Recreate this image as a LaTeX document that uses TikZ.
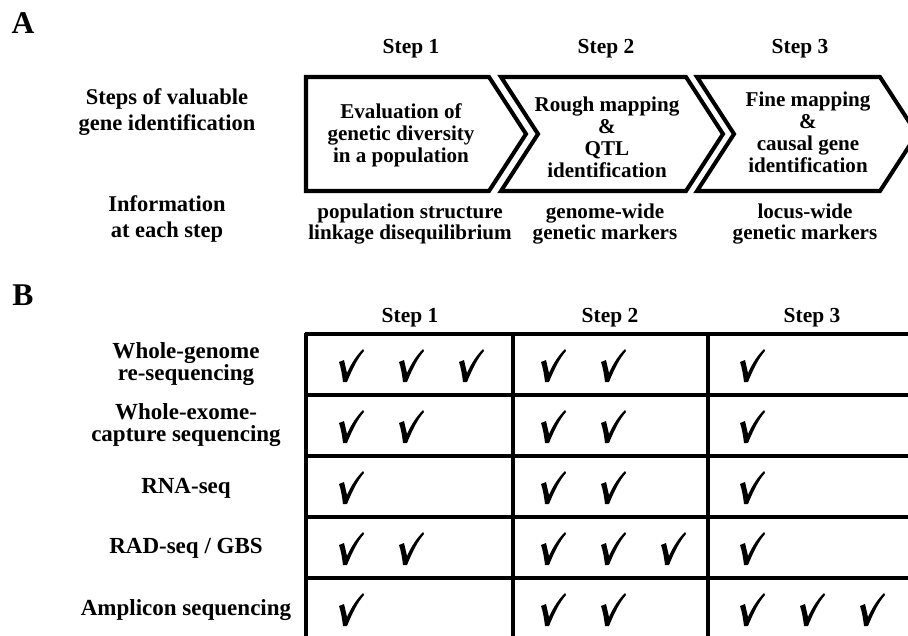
\documentclass[tikz,border=0pt]{standalone}
\usepackage{fontspec}
\setmainfont{Liberation Serif}
\usetikzlibrary{positioning}

\begin{document}
\begin{tikzpicture}[
  x=0.02cm, y=-0.02cm,
  panel/.style={font=\fontsize{18}{20}\selectfont\bfseries},
  steplab/.style={font=\fontsize{12.2}{14}\selectfont\bfseries},
  sidelab/.style={align=center, font=\fontsize{12.8}{14.5}\selectfont\bfseries},
  chevtxt/.style={align=center, font=\fontsize{12}{12.6}\selectfont\bfseries},
  info/.style={align=center, font=\fontsize{12}{12}\selectfont\bfseries},
  rowlab/.style={align=center, font=\fontsize{13.1}{12.6}\selectfont\bfseries},
  chev/.style={draw, line width=2.3pt, line join=miter},
  tabline/.style={line width=1.9pt},
  chk/.pic={
    \fill (-13,-4) -- (-8,-6) .. controls (-7,0) .. (-5,7)
      .. controls (0,-4) and (5,-11) .. (11,-17) -- (12,-15)
      .. controls (5,-7) and (0,4) .. (-5,16) -- (-9,16)
      .. controls (-10,8) and (-11,2) .. (-13,-4) -- cycle;
  }
]
\useasboundingbox (0,0) rectangle (908,635);
\clip (0,0) rectangle (908,635);

% panel A
\node[panel] (A) at (23,23) {A};
\node[steplab] (s1) at (411,49) {Step 1};
\node[steplab] (s2) at (606,49) {Step 2};
\node[steplab] (s3) at (800,49) {Step 3};

\node[sidelab] (steps) at (167,112) {Steps of valuable\\gene identification};
\node[sidelab] (infohead) at (167,219) {Information\\at each step};

\draw[chev] (306,77) -- (489,77) -- (526,134) -- (489,191) -- (306,191) -- cycle;
\draw[chev] (501,77) -- (686,77) -- (723,134) -- (686,191) -- (501,191) -- (538,134) -- cycle;
\draw[chev] (697,77) -- (880,77) -- (917,134) -- (880,191) -- (697,191) -- (734,134) -- cycle;

\node[chevtxt] (c1) at (401,135) {Evaluation of\\genetic diversity\\in a population};
\node[chevtxt] (c2) at (607,137) {Rough mapping\\\&\\QTL\\identification};
\node[chevtxt] (c3) at (808,132) {Fine mapping\\\&\\causal gene\\identification};

\node[info] (i1) at (410,224) {population structure\\linkage disequilibrium};
\node[info] (i2) at (605,224) {genome-wide\\genetic markers};
\node[info] (i3) at (805,224) {locus-wide\\genetic markers};

% panel B
\node[panel] (B) at (23,295) {B};
\node[steplab] (t1) at (410,318) {Step 1};
\node[steplab] (t2) at (610,318) {Step 2};
\node[steplab] (t3) at (812,318) {Step 3};

\foreach \y in {334,395,456,517,578}
  \draw[tabline] (305,\y) -- (910,\y);
\foreach \x in {306,513,708}
  \draw[tabline] (\x,333) -- (\x,640);

\node[rowlab] (wgs) at (186,364) {Whole-genome\\re-sequencing};
\node[rowlab] (wes) at (186,425) {Whole-exome-\\capture sequencing};
\node[rowlab] (rna) at (186,488) {RNA-seq};
\node[rowlab] (rad) at (186,548) {RAD-seq / GBS};
\node[rowlab] (amp) at (186,610) {Amplicon sequencing};

% check marks
\foreach \y/\xs in {366/{352,412,472,554,614,753},
                    427/{352,412,554,614,753},
                    488/{352,554,614,753},
                    549/{352,412,554,614,674,753},
                    610/{352,554,614,753,813,873}}
  \foreach \x in \xs
    \pic at (\x,\y) {chk};
\end{tikzpicture}
\end{document}
